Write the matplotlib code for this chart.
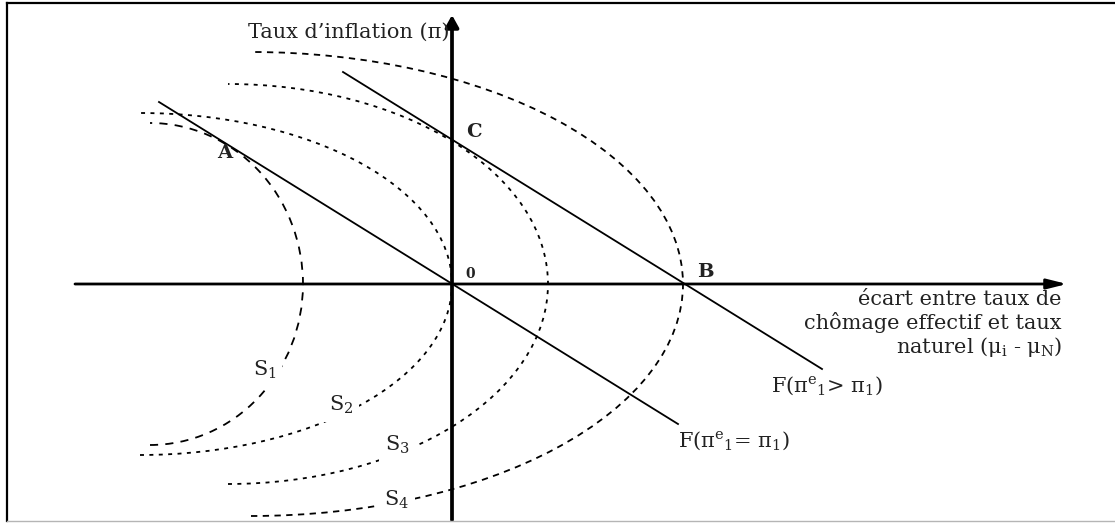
import matplotlib
matplotlib.use('Agg')
import matplotlib.pyplot as plt
from matplotlib.patches import Arc
from matplotlib.lines import Line2D

plt.rcParams['font.family'] = ['DejaVu Serif']
plt.rcParams['mathtext.fontset'] = 'dejavuserif'

# =============================================================================
# Data (units: horizontal / vertical deviation, origin at 0)
# =============================================================================

# iso-loss curves S1..S4 : right half-ellipses centred on the horizontal axis
s_names  = ['S$_1$', 'S$_2$', 'S$_3$', 'S$_4$']
s_cx     = [-3.02, -3.12, -2.24, -2.01]
s_width  = [3.06, 6.24, 6.40, 8.64]
s_height = [3.22, 3.42, 4.00, 4.64]
s_styles = [(0, (4.5, 4)), (0, (2.2, 3)), (0, (2.2, 3)), (0, (3.5, 3))]
s_lab_x  = [-1.87, -1.11, -0.55, -0.55]
s_lab_y  = [-0.86, -1.21, -1.61, -2.16]

# Phillips curves
f_low_x  = [-2.93, 2.26]
f_low_y  = [1.82, -1.40]
f_high_x = [-1.09, 3.70]
f_high_y = [2.12, -0.85]

# points
pt_names = ['A', 'C', '0', 'B']
pt_x     = [-2.27, 0.22, 0.18, 2.53]
pt_y     = [1.31, 1.52, 0.10, 0.12]
pt_size  = [14, 14, 10, 14]

ink = '#222222'

# =============================================================================
# Plot
# =============================================================================

fig = plt.figure(figsize=(11.15, 5.28), dpi=100)
ax = fig.add_axes([0, 0, 1, 1])
ax.set_xlim(-4.52, 6.63)
ax.set_ylim(-2.44, 2.84)
ax.axis('off')

# frame
fig.add_artist(Line2D([7/1115, 1], [1-3/528, 1-3/528], color='k', lw=1.6))
fig.add_artist(Line2D([7/1115, 7/1115], [1-3/528, 1-521/528], color='k', lw=1.6))
fig.add_artist(Line2D([7/1115, 1], [1-521/528, 1-521/528], color='#b5b5b5', lw=1.0))

# axes arrows
ax.annotate('', xy=(6.15, 0), xytext=(-3.77, 0),
            arrowprops=dict(arrowstyle='-|>,head_length=0.4,head_width=0.1',
                            color='k', lw=2.0, mutation_scale=30,
                            shrinkA=0, shrinkB=0))
ax.annotate('', xy=(0, 2.69), xytext=(0, -2.36),
            arrowprops=dict(arrowstyle='-|>,head_length=0.36,head_width=0.2',
                            color='k', lw=2.7, mutation_scale=20,
                            shrinkA=0, shrinkB=0))

# S curves
for cx, w, h, ls in zip(s_cx, s_width, s_height, s_styles):
    ax.add_patch(Arc((cx, 0), w, h, theta1=-90, theta2=90,
                     color='k', lw=1.3, linestyle=ls))
for name, x, y in zip(s_names, s_lab_x, s_lab_y):
    ax.text(x, y, name, fontsize=15, color=ink, ha='center', va='center',
            bbox=dict(facecolor='white', edgecolor='none', pad=4))

# F lines
ax.plot(f_low_x, f_low_y, '-k', lw=1.3)
ax.plot(f_high_x, f_high_y, '-k', lw=1.3)

for name, x, y, fs in zip(pt_names, pt_x, pt_y, pt_size):
    ax.text(x, y, name, fontsize=fs, fontweight='bold',
            color=ink, ha='center', va='center')

# labels
ax.text(-0.02, 2.52, 'Taux d\u2019inflation (\u03c0)', fontsize=15, color=ink,
        ha='right', va='center')
ax.text(6.10, -0.06,
        '\u00e9cart entre taux de\nch\u00f4mage effectif et taux\n'
        'naturel (\u03bc$_\\mathrm{i}$ - \u03bc$_\\mathrm{N}$)',
        fontsize=15, color=ink, ha='right', va='top', linespacing=1.15,
        multialignment='right')
ax.text(3.19, -1.02, 'F(\u03c0$^{\\mathrm{e}}{}_{1}$> \u03c0$_{1}$)', fontsize=15,
        color=ink, ha='left', va='center')
ax.text(2.26, -1.57, 'F(\u03c0$^{\\mathrm{e}}{}_{1}$= \u03c0$_{1}$)', fontsize=15,
        color=ink, ha='left', va='center')

fig.savefig('out.png', dpi=100)
